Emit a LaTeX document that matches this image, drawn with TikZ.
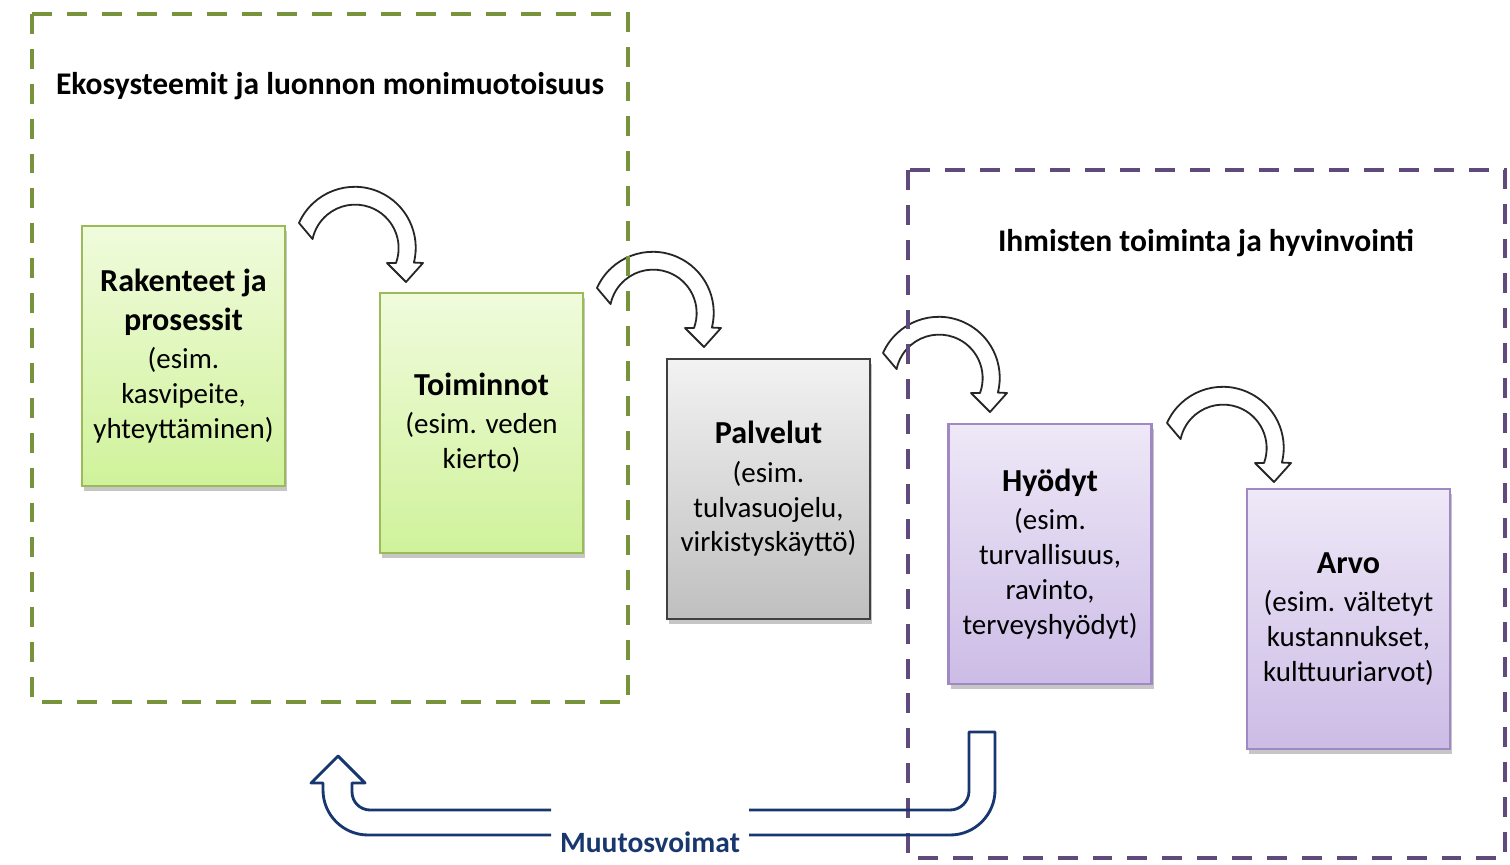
\documentclass[tikz,border=0pt]{standalone}
\usepackage{fontspec}
\setmainfont{Carlito}
\usepackage{tikz}
\usetikzlibrary{positioning, shadows}

\definecolor{ecogreen}{RGB}{119,147,60}
\definecolor{humanpurple}{RGB}{96,74,123}
\definecolor{forcenavy}{RGB}{23,55,110}
\definecolor{greenedge}{RGB}{155,187,89}
\definecolor{greentop}{RGB}{240,251,220}
\definecolor{greenbot}{RGB}{208,242,155}
\definecolor{grayedge}{RGB}{64,64,64}
\definecolor{purpleedge}{RGB}{160,136,196}
\definecolor{purpletop}{RGB}{238,232,247}
\definecolor{purplebot}{RGB}{204,188,230}

\newcommand{\stagehead}[1]{{\fontsize{12.4}{14.5}\selectfont\bfseries #1}}

\tikzset{
  stagebox/.style={rectangle, draw, line width=0.8pt, align=center,
    minimum width=203*0.0136cm, minimum height=260*0.0136cm,
    font=\fontsize{11.2}{13.5}\selectfont,
    drop shadow={shadow xshift=0.8pt, shadow yshift=-1.8pt, opacity=0.45}},
  greenbox/.style={stagebox, draw=greenedge, top color=greentop, bottom color=greenbot},
  graybox/.style={stagebox, draw=grayedge, top color=black!5, bottom color=black!25},
  purplebox/.style={stagebox, draw=purpleedge, top color=purpletop, bottom color=purplebot},
  frame/.style={line width=1.5pt, dash pattern=on 7.7pt off 5.8pt},
  frametitle/.style={font=\fontsize{12.2}{14.5}\selectfont\bfseries},
  bendline/.style={draw=black!85, fill=white, line width=0.7pt, line join=round},
  bendarrow/.pic={
    \draw[bendline] (-56,25) arc[start angle=156, end angle=-14, radius=61]
      -- (68,-15) -- (51,-34) -- (32,-15) -- (41,-15)
      arc[start angle=-20, end angle=168, radius=43.5] -- cycle;
  },
  forceline/.style={draw=forcenavy, line width=1.1pt, line join=round}
}

\begin{document}
\begin{tikzpicture}[x=0.0136cm, y=0.0136cm]
  \useasboundingbox (0,0) rectangle (1510,-865);

  % Curved arrows
  \foreach \cx/\cy in {355/-248, 653/-313, 939/-378, 1223/-448}
    \pic at (\cx,\cy) {bendarrow};

  % Frames
  \draw[frame, draw=ecogreen] (32,-14) rectangle (628,-702);
  \draw[frame, draw=humanpurple] (908,-170) rectangle (1505,-858);
  \node[frametitle] (ekotitle) at (330,-86) {Ekosysteemit ja luonnon monimuotoisuus};
  \node[frametitle] (ihmistitle) at (1206,-243) {Ihmisten toiminta ja hyvinvointi};

  % Stages
  \node[greenbox] (rakenteet) at (183.5,-356)
    {\stagehead{Rakenteet ja}\\[1.3pt] \stagehead{prosessit}\\[1.3pt] (esim.\\ kasvipeite,\\ yhteyttäminen)};
  \node[greenbox] (toiminnot) at (481.5,-423)
    {\stagehead{Toiminnot}\\[1.3pt] (esim. veden\\ kierto)};
  \node[graybox] (palvelut) at (768.5,-489)
    {\stagehead{Palvelut}\\[1.3pt] (esim.\\ tulvasuojelu,\\ virkistyskäyttö)};
  \node[purplebox] (hyodyt) at (1050,-554)
    {\stagehead{Hyödyt}\\[1.3pt] (esim.\\ turvallisuus,\\ ravinto,\\ terveyshyödyt)};
  \node[purplebox] (arvo) at (1348.5,-619)
    {\stagehead{Arvo}\\[1.3pt] (esim. vältetyt\\ kustannukset,\\ kulttuuriarvot)};

  % Feedback arrow
  \node[font=\fontsize{11.4}{13.5}\selectfont\bfseries, text=forcenavy] (muutos) at (650,-842) {Muutosvoimat};
  \draw[forceline] (muutos.west |- 0,-835) -- (368,-835)
    arc[start angle=270, end angle=180, radius=45] -- (323,-783) -- (311,-783)
    -- (338,-756) -- (365,-783) -- (352,-783) -- (352,-792)
    arc[start angle=180, end angle=270, radius=18] -- (muutos.west |- 0,-810);
  \draw[forceline] (muutos.east |- 0,-810) -- (950,-810)
    arc[start angle=270, end angle=360, radius=19] -- (969,-732) -- (995,-732)
    -- (995,-790) arc[start angle=0, end angle=-90, radius=45] -- (muutos.east |- 0,-835);
\end{tikzpicture}
\end{document}
